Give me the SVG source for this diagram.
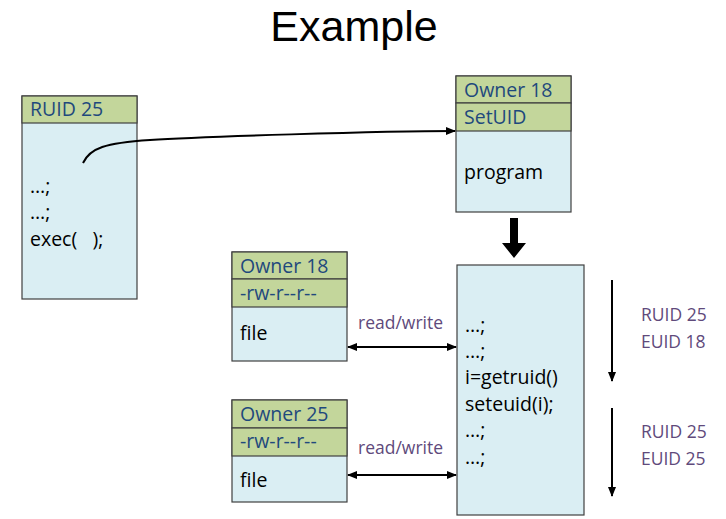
<svg xmlns="http://www.w3.org/2000/svg" width="726" height="519" viewBox="0 0 726 519">
<defs>
<style>
.hdr{fill:#C3D69B;stroke:#404040;stroke-width:1.2}
.body{fill:#DAEEF3;stroke:#404040;stroke-width:1.2}
.ht{font-family:"Open Sans","Liberation Sans",sans-serif;font-size:19.5px;fill:#1F497D}
.bt{font-family:"Open Sans","Liberation Sans",sans-serif;font-size:19.5px;fill:#000}
.pt{font-family:"Open Sans","Liberation Sans",sans-serif;font-size:17.5px;fill:#604A7B}
.ln{fill:none;stroke:#000;stroke-width:2}
</style>
<marker id="ah" viewBox="0 0 10 10" refX="9" refY="5" markerWidth="5" markerHeight="5" orient="auto-start-reverse" markerUnits="strokeWidth">
<path d="M0,1 L10,5 L0,9 z" fill="#000"/>
</marker>
</defs>
<rect width="726" height="519" fill="#fff"/>
<text x="354" y="41" text-anchor="middle" font-family="Liberation Sans, Arial, sans-serif" font-size="43" fill="#000">Example</text>

<g id="caller">
<rect class="body" x="22" y="96" width="115" height="203"/>
<rect class="hdr" x="22" y="96" width="115" height="27"/>
<text class="ht" x="30" y="116">RUID 25</text>
<text class="bt" x="30" y="193">…;</text>
<text class="bt" x="30" y="219">…;</text>
<text class="bt" x="30" y="246">exec(&#160;&#160;&#160;);</text>
</g>

<g id="program">
<rect class="body" x="456" y="76" width="115" height="136"/>
<rect class="hdr" x="456" y="76" width="115" height="27"/>
<rect class="hdr" x="456" y="103" width="115" height="28"/>
<text class="ht" x="464" y="97">Owner 18</text>
<text class="ht" x="464" y="124">SetUID</text>
<text class="bt" x="464" y="179">program</text>
</g>

<g id="file1">
<rect class="body" x="232" y="252" width="115" height="109"/>
<rect class="hdr" x="232" y="252" width="115" height="27"/>
<rect class="hdr" x="232" y="279" width="115" height="28"/>
<text class="ht" x="240" y="273">Owner 18</text>
<text class="ht" x="240" y="300">-rw-r--r--</text>
<text class="bt" x="240" y="340">file</text>
</g>

<g id="file2">
<rect class="body" x="232" y="400" width="115" height="102"/>
<rect class="hdr" x="232" y="400" width="115" height="28"/>
<rect class="hdr" x="232" y="428" width="115" height="28"/>
<text class="ht" x="240" y="421">Owner 25</text>
<text class="ht" x="240" y="448">-rw-r--r--</text>
<text class="bt" x="240" y="487">file</text>
</g>

<g id="process">
<rect class="body" x="457" y="265" width="127" height="250"/>
<text class="bt" x="465" y="332">…;</text>
<text class="bt" x="465" y="358">…;</text>
<text class="bt" x="465" y="384">i=getruid()</text>
<text class="bt" x="465" y="411">seteuid(i);</text>
<text class="bt" x="465" y="437">…;</text>
<text class="bt" x="465" y="464">…;</text>
</g>

<g id="labels">
<text class="pt" x="358" y="329">read/write</text>
<text class="pt" x="358" y="454">read/write</text>
<text class="pt" x="641" y="321">RUID 25</text>
<text class="pt" x="641" y="348">EUID 18</text>
<text class="pt" x="641" y="438">RUID 25</text>
<text class="pt" x="641" y="465">EUID 25</text>
</g>

<g id="connectors">
<path class="ln" d="M83,163 C90,148 105,143 150,140 S 380,131 455,131" marker-end="url(#ah)"/>
<polygon points="510,218 518,218 518,243 526,243 514,258 502,243 510,243" fill="#000"/>
<line class="ln" x1="348" y1="347" x2="456" y2="347" marker-start="url(#ah)" marker-end="url(#ah)"/>
<line class="ln" x1="348" y1="475" x2="456" y2="475" marker-start="url(#ah)" marker-end="url(#ah)"/>
<line class="ln" x1="612" y1="280" x2="612" y2="381" marker-end="url(#ah)"/>
<line class="ln" x1="612" y1="408" x2="612" y2="496" marker-end="url(#ah)"/>
</g>
</svg>
